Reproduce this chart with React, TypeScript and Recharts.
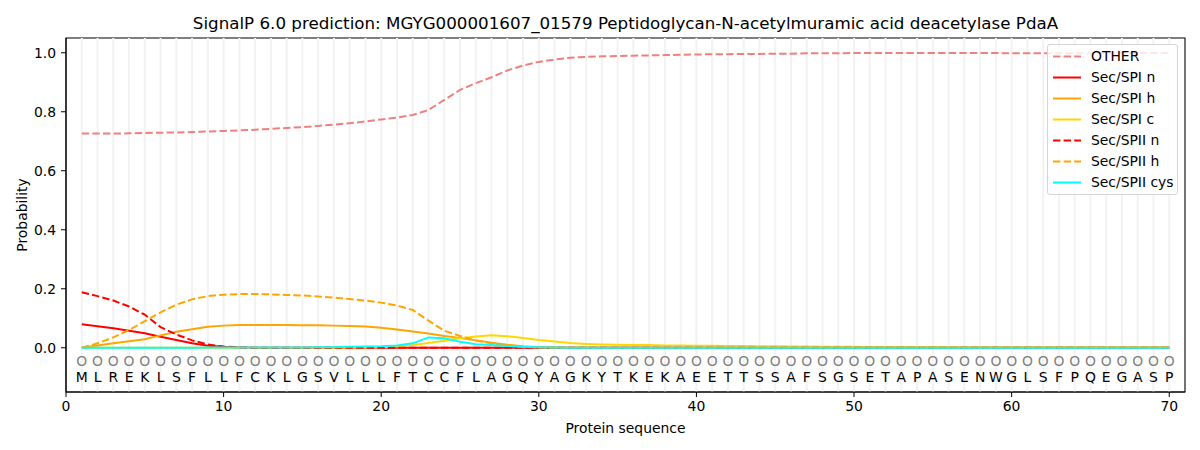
import {
  ComposedChart,
  Line,
  Scatter,
  XAxis,
  YAxis,
  ReferenceLine,
  ReferenceArea,
} from 'recharts';

const sequence = 'MLREKLSFLLFCKLGSVLLLFTCCFLAGQYAGKYTKEKAEETTSSAFSGSETAPASENWGLSFPQEGASP'.split('');

const other = [
  0.726, 0.726, 0.726, 0.727, 0.728, 0.729, 0.73, 0.731, 0.733, 0.735,
  0.737, 0.739, 0.742, 0.745, 0.748, 0.752, 0.756, 0.761, 0.767, 0.774,
  0.78, 0.789, 0.806, 0.84, 0.874, 0.897, 0.917, 0.94, 0.957, 0.969,
  0.977, 0.983, 0.986, 0.988, 0.989, 0.99, 0.991, 0.992, 0.993, 0.994,
  0.995, 0.995, 0.996, 0.996, 0.997, 0.997, 0.998, 0.998, 0.998, 0.999,
  0.999, 0.999, 0.999, 0.999, 0.999, 0.999, 0.999, 0.999, 0.999, 0.998,
  0.998, 0.998, 0.998, 0.998, 0.998, 0.998, 0.999, 0.999, 0.999, 0.999,
];
const spiN = [
  0.08, 0.073, 0.066, 0.058, 0.049, 0.037, 0.026, 0.015, 0.007, 0.003,
  0.001, 0, 0, 0, 0, 0, 0, 0, 0, 0,
  0, 0, 0, 0, 0, 0, 0, 0, 0, 0,
  0, 0, 0, 0, 0, 0, 0, 0, 0, 0,
  0, 0, 0, 0, 0, 0, 0, 0, 0, 0,
  0, 0, 0, 0, 0, 0, 0, 0, 0, 0,
  0, 0, 0, 0, 0, 0, 0, 0, 0, 0,
];
const spiH = [
  0, 0.008, 0.015, 0.022, 0.029, 0.042, 0.054, 0.063, 0.071, 0.075,
  0.077, 0.077, 0.077, 0.077, 0.076, 0.076, 0.075, 0.074, 0.072, 0.068,
  0.062, 0.055, 0.048, 0.04, 0.033, 0.025, 0.017, 0.01, 0.005, 0.002,
  0.001, 0, 0, 0, 0, 0, 0, 0, 0, 0,
  0, 0, 0, 0, 0, 0, 0, 0, 0, 0,
  0, 0, 0, 0, 0, 0, 0, 0, 0, 0,
  0, 0, 0, 0, 0, 0, 0, 0, 0, 0,
];
const spiC = [
  0, 0, 0, 0, 0, 0, 0, 0, 0, 0,
  0, 0, 0, 0, 0, 0, 0, 0, 0.001, 0.002,
  0.004, 0.009, 0.016, 0.024, 0.032, 0.038, 0.042, 0.039, 0.033, 0.026,
  0.021, 0.016, 0.013, 0.011, 0.01, 0.009, 0.009, 0.008, 0.008, 0.007,
  0.007, 0.006, 0.006, 0.005, 0.005, 0.004, 0.004, 0.003, 0.003, 0.003,
  0.002, 0.002, 0.002, 0.002, 0.002, 0.002, 0.001, 0.001, 0.001, 0.001,
  0.001, 0.001, 0.001, 0.001, 0.001, 0.001, 0.001, 0.001, 0.001, 0.001,
];
const spiiN = [
  0.188, 0.175, 0.16, 0.14, 0.112, 0.07, 0.045, 0.025, 0.011, 0.004,
  0.001, 0, 0, 0, 0, 0, 0, 0, 0, 0,
  0, 0, 0, 0, 0, 0, 0, 0, 0, 0,
  0, 0, 0, 0, 0, 0, 0, 0, 0, 0,
  0, 0, 0, 0, 0, 0, 0, 0, 0, 0,
  0, 0, 0, 0, 0, 0, 0, 0, 0, 0,
  0, 0, 0, 0, 0, 0, 0, 0, 0, 0,
];
const spiiH = [
  0, 0.015, 0.035, 0.06, 0.09, 0.12, 0.146, 0.164, 0.175, 0.18,
  0.182, 0.182, 0.181, 0.179, 0.177, 0.174, 0.17, 0.165, 0.16, 0.153,
  0.143, 0.128, 0.092, 0.058, 0.04, 0.025, 0.015, 0.007, 0.003, 0.001,
  0, 0, 0, 0, 0, 0, 0, 0, 0, 0,
  0, 0, 0, 0, 0, 0, 0, 0, 0, 0,
  0, 0, 0, 0, 0, 0, 0, 0, 0, 0,
  0, 0, 0, 0, 0, 0, 0, 0, 0, 0,
];
const spiiCys = [
  0, 0, 0, 0, 0, 0, 0, 0, 0.001, 0.001,
  0.001, 0.001, 0.001, 0.001, 0.001, 0.002, 0.002, 0.003, 0.004, 0.005,
  0.008, 0.015, 0.035, 0.032, 0.02, 0.012, 0.009, 0.006, 0.003, 0.002,
  0.001, 0, 0, 0, 0, 0, 0, 0, 0, 0,
  0, 0, 0, 0, 0, 0, 0, 0, 0, 0,
  0, 0, 0, 0, 0, 0, 0, 0, 0, 0,
  0, 0, 0, 0, 0, 0, 0, 0, 0, 0,
];

const xTicks = [0, 10, 20, 30, 40, 50, 60, 70];
const yTicks = [0, 0.2, 0.4, 0.6, 0.8, 1.0];

const series = [
  { key: 'other', name: 'OTHER', color: '#f08080', dashed: true },
  { key: 'spiN', name: 'Sec/SPI n', color: '#ff0000', dashed: false },
  { key: 'spiH', name: 'Sec/SPI h', color: '#ffa500', dashed: false },
  { key: 'spiC', name: 'Sec/SPI c', color: '#ffd700', dashed: false },
  { key: 'spiiN', name: 'Sec/SPII n', color: '#ff0000', dashed: true },
  { key: 'spiiH', name: 'Sec/SPII h', color: '#ffa500', dashed: true },
  { key: 'spiiCys', name: 'Sec/SPII cys', color: '#00ffff', dashed: false },
];

const rows = sequence.map((aa, i) => ({
  pos: i + 1,
  aa,
  other: other[i],
  spiN: spiN[i],
  spiH: spiH[i],
  spiC: spiC[i],
  spiiN: spiiN[i],
  spiiH: spiiH[i],
  spiiCys: spiiCys[i],
  markY: -0.045,
  letterY: -0.099,
}));

const FONT = '"DejaVu Sans", sans-serif';
const FS = 13.9;
const DASH = '7.4 3.2';

const LetterShape = (props: any) => (
  <text
    x={props.cx}
    y={props.cy}
    textAnchor="middle"
    dominantBaseline="central"
    fontSize={FS}
    fontFamily={FONT}
    fill="#000"
  >
    {props.payload.aa}
  </text>
);

const MarkShape = (props: any) => (
  <text
    x={props.cx}
    y={props.cy}
    textAnchor="middle"
    dominantBaseline="central"
    fontSize={FS}
    fontFamily={FONT}
    fill="#808080"
  >
    O
  </text>
);

const YLabel = (props: any) => {
  const vb = props.viewBox;
  const x = vb.x + 22;
  const y = vb.y + vb.height / 2;
  return (
    <text
      x={x}
      y={y}
      transform={`rotate(-90 ${x} ${y})`}
      textAnchor="middle"
      dominantBaseline="central"
      fontSize={FS}
      fontFamily={FONT}
      fill="#000"
    >
      Probability
    </text>
  );
};

export default function App() {
  return (
    <div style={{ position: 'absolute', left: 0, top: 0, width: 1200, height: 450, background: '#fff', fontFamily: FONT }}>
      <div
        style={{
          position: 'absolute',
          left: 66,
          top: 12,
          width: 1119,
          height: 22,
          lineHeight: '22px',
          textAlign: 'center',
          fontSize: 16.7,
          color: '#000',
        }}
      >
        SignalP 6.0 prediction: MGYG000001607_01579 Peptidoglycan-N-acetylmuramic acid deacetylase PdaA
      </div>
      <ComposedChart width={1200} height={450} data={rows} margin={{ top: 38, right: 15, bottom: 0, left: 0 }}>
        <XAxis
          type="number"
          dataKey="pos"
          domain={[0, 71]}
          ticks={xTicks}
          allowDataOverflow
          height={58}
          tickSize={5}
          tickMargin={4}
          stroke="#000"
          tick={{ fill: '#000', fontSize: FS, fontFamily: FONT }}
          label={{ value: 'Protein sequence', position: 'insideBottom', offset: 17, fill: '#000', fontSize: FS, fontFamily: FONT }}
        />
        <YAxis
          type="number"
          domain={[-0.15, 1.05]}
          ticks={yTicks}
          allowDataOverflow
          width={66}
          tickSize={5}
          tickMargin={5}
          stroke="#000"
          tickFormatter={(v: number) => v.toFixed(1)}
          tick={{ fill: '#000', fontSize: FS, fontFamily: FONT }}
          label={{ content: YLabel }}
        />
        {rows.map((r) => (
          <ReferenceLine key={`g${r.pos}`} x={r.pos} stroke="#f2f2f2" strokeWidth={2} />
        ))}
        {series.map((s) => (
          <Line
            key={s.key}
            type="linear"
            dataKey={s.key}
            name={s.name}
            stroke={s.color}
            strokeWidth={2}
            strokeDasharray={s.dashed ? DASH : undefined}
            dot={false}
            activeDot={false}
            isAnimationActive={false}
          />
        ))}
        <Scatter data={rows} dataKey="markY" shape={MarkShape} isAnimationActive={false} />
        <Scatter data={rows} dataKey="letterY" shape={LetterShape} isAnimationActive={false} />
        <ReferenceArea x1={0} x2={71} y1={-0.15} y2={1.05} fill="none" fillOpacity={0} stroke="#000" strokeWidth={1.1} />
      </ComposedChart>
      <div
        style={{
          position: 'absolute',
          left: 1047,
          top: 44,
          width: 129,
          height: 149,
          border: '1px solid #d5d5d5',
          borderRadius: 3,
          background: 'rgba(255,255,255,0.8)',
          fontSize: FS,
          color: '#000',
        }}
      >
        {series.map((s, i) => (
          <div key={s.key} style={{ position: 'absolute', left: 0, top: 1 + i * 21, height: 21, width: 129 }}>
            <svg width={40} height={21} style={{ position: 'absolute', left: 4, top: 0 }}>
              <line
                x1={1}
                y1={10.5}
                x2={29}
                y2={10.5}
                stroke={s.color}
                strokeWidth={2}
                strokeDasharray={s.dashed ? DASH : undefined}
              />
            </svg>
            <span style={{ position: 'absolute', left: 43, top: 0, lineHeight: '21px', whiteSpace: 'nowrap' }}>{s.name}</span>
          </div>
        ))}
      </div>
    </div>
  );
}
